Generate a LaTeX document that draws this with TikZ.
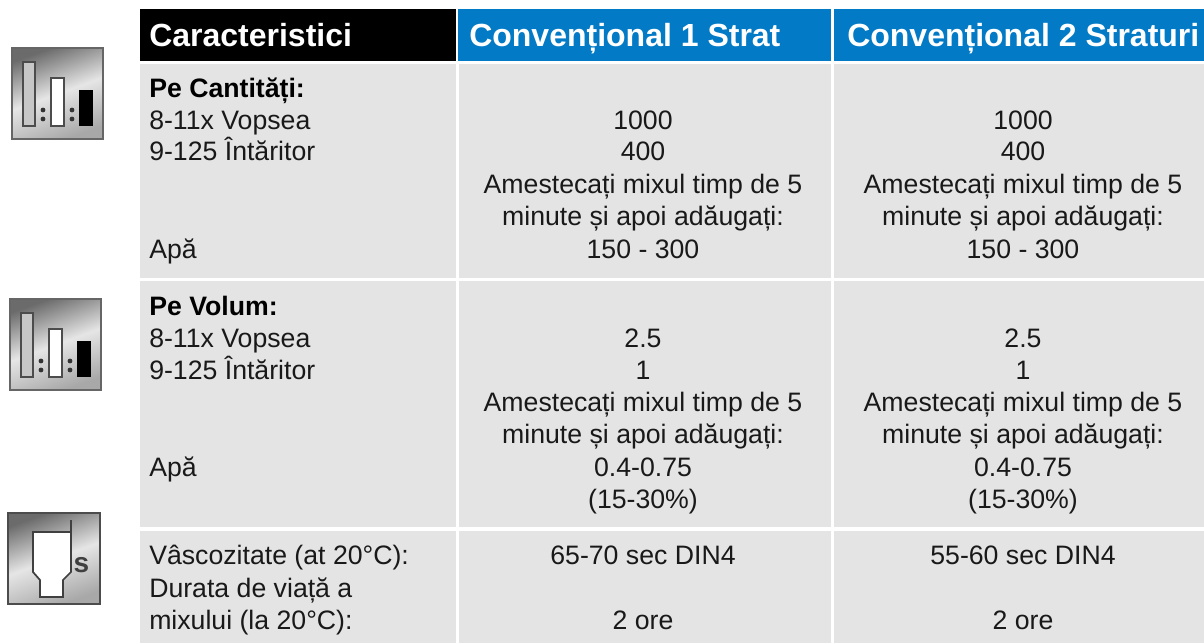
\documentclass[tikz,border=0pt]{standalone}
\usepackage{fontspec}
\setmainfont{Liberation Sans}
\definecolor{hblue}{RGB}{2,122,198}
\definecolor{cellgrey}{RGB}{228,228,228}
\tikzset{
 cell/.style={fill=cellgrey,draw=none},
 lab/.style={anchor=base west,inner sep=0pt,yshift=-1.5pt,font=\fontsize{20}{20}\selectfont,text=black!90},
 labb/.style={anchor=base west,inner sep=0pt,yshift=-1.5pt,font=\fontsize{20}{20}\selectfont\bfseries,text=black},
 val/.style={anchor=base,inner sep=0pt,yshift=-1.5pt,font=\fontsize{20}{20}\selectfont,text=black!90},
 hd/.style={anchor=base west,inner sep=0pt,yshift=-.6pt,font=\fontsize{24}{24}\selectfont\bfseries,text=white},
 iconbar/.style={draw=black!70,line width=1.5pt},
 dotm/.style={circle,fill=black!80,inner sep=0pt,minimum size=3.6pt},
 metal/.style={shade,shading=axis,left color=black!34,right color=black!58,middle color=black!10,shading angle=200},
}
\newcommand{\ratioicon}[2]{%
 \begin{scope}[shift={(#1,#2)}]
  \path[metal] (0,0) rectangle (91,91);
  \draw[black!60,line width=.8pt] (0,0) rectangle (91,91);
  \draw[iconbar,fill=black!22] (11,14) rectangle (23,78);
  \draw[iconbar,fill=white] (39,30) rectangle (52,78);
  \fill[black] (67,42) rectangle (81,78);
  \node[dotm] at (31,62) {}; \node[dotm] at (31,71) {};
  \node[dotm] at (60,62) {}; \node[dotm] at (60,71) {};
 \end{scope}}
\begin{document}
\begin{tikzpicture}[x=0.75pt,y=-0.75pt]
\useasboundingbox[fill=white] (0,0) rectangle (1204,643);
% header
\fill[black] (140,9) rectangle (456,61);
\fill[hblue] (458,9) rectangle (831,61);
\fill[hblue] (834,9) rectangle (1204,61);
\node[hd] (h1) at (149,46) {Caracteristici};
\node[hd] (h2) at (469,46) {Convențional 1 Strat};
\node[hd] (h3) at (847,46) {Convențional 2 Straturi};
% row backgrounds
\fill[cell] (140,64) rectangle (456,278);
\fill[cell] (459,64) rectangle (831,278);
\fill[cell] (834,64) rectangle (1204,278);
\fill[cell] (140,281) rectangle (456,527);
\fill[cell] (459,281) rectangle (831,527);
\fill[cell] (834,281) rectangle (1204,527);
\fill[cell] (140,531) rectangle (456,643);
\fill[cell] (459,531) rectangle (831,643);
\fill[cell] (834,531) rectangle (1204,643);
% icons
\ratioicon{12}{48}
\ratioicon{10}{299}
\begin{scope}[shift={(8,513)}]
 \path[metal] (0,0) rectangle (92,91);
 \draw[black!70,line width=.8pt] (0,0) rectangle (92,91);
 \fill[white] (25,19) -- (63,19) -- (63,59) -- (55,67) -- (55,84) -- (32,84) -- (32,67) -- (25,59) -- cycle;
 \draw[black!75,line width=1.3pt] (63,7) -- (63,19) -- (25,19) -- (25,59) -- (32,67) -- (32,84) -- (55,84) -- (55,67) -- (63,59) -- (63,19);
 \node[inner sep=0pt,font=\fontsize{21}{21}\selectfont\bfseries,text=black!75] (sicon) at (73.5,52) {s};
\end{scope}
% row 1
\node[labb] (a1) at (149,95) {Pe Cantități:};
\node[lab] (a2) at (149,127) {8-11x Vopsea};
\node[lab] (a3) at (149,158) {9-125 Întăritor};
\node[lab] (a4) at (149,256) {Apă};
\node[val] (b1) at (643,127) {1000};
\node[val] (b2) at (643,158) {400};
\node[val] (b3) at (643,191) {Amestecați mixul timp de 5};
\node[val] (b4) at (643,223) {minute și apoi adăugați:};
\node[val] (b5) at (643,256) {150 - 300};
\node[val] (c1) at (1023,127) {1000};
\node[val] (c2) at (1023,158) {400};
\node[val] (c3) at (1023,191) {Amestecați mixul timp de 5};
\node[val] (c4) at (1023,223) {minute și apoi adăugați:};
\node[val] (c5) at (1023,256) {150 - 300};
% row 2
\node[labb] (d1) at (149,313) {Pe Volum:};
\node[lab] (d2) at (149,345) {8-11x Vopsea};
\node[lab] (d3) at (149,377) {9-125 Întăritor};
\node[lab] (d4) at (149,474) {Apă};
\node[val] (e1) at (643,345) {2.5};
\node[val] (e2) at (643,377) {1};
\node[val] (e3) at (643,409) {Amestecați mixul timp de 5};
\node[val] (e4) at (643,441) {minute și apoi adăugați:};
\node[val] (e5) at (643,474) {0.4-0.75};
\node[val] (e6) at (643,506) {(15-30\%)};
\node[val] (f1) at (1023,345) {2.5};
\node[val] (f2) at (1023,377) {1};
\node[val] (f3) at (1023,409) {Amestecați mixul timp de 5};
\node[val] (f4) at (1023,441) {minute și apoi adăugați:};
\node[val] (f5) at (1023,474) {0.4-0.75};
\node[val] (f6) at (1023,506) {(15-30\%)};
% row 3
\node[lab] (g1) at (149,562) {Vâscozitate (at 20°C):};
\node[lab] (g2) at (149,595) {Durata de viață a};
\node[lab] (g3) at (149,627) {mixului (la 20°C):};
\node[val] (h4) at (643,562) {65-70 sec DIN4};
\node[val] (h5) at (643,627) {2 ore};
\node[val] (i1) at (1023,562) {55-60 sec DIN4};
\node[val] (i2) at (1023,627) {2 ore};
\end{tikzpicture}
\end{document}
